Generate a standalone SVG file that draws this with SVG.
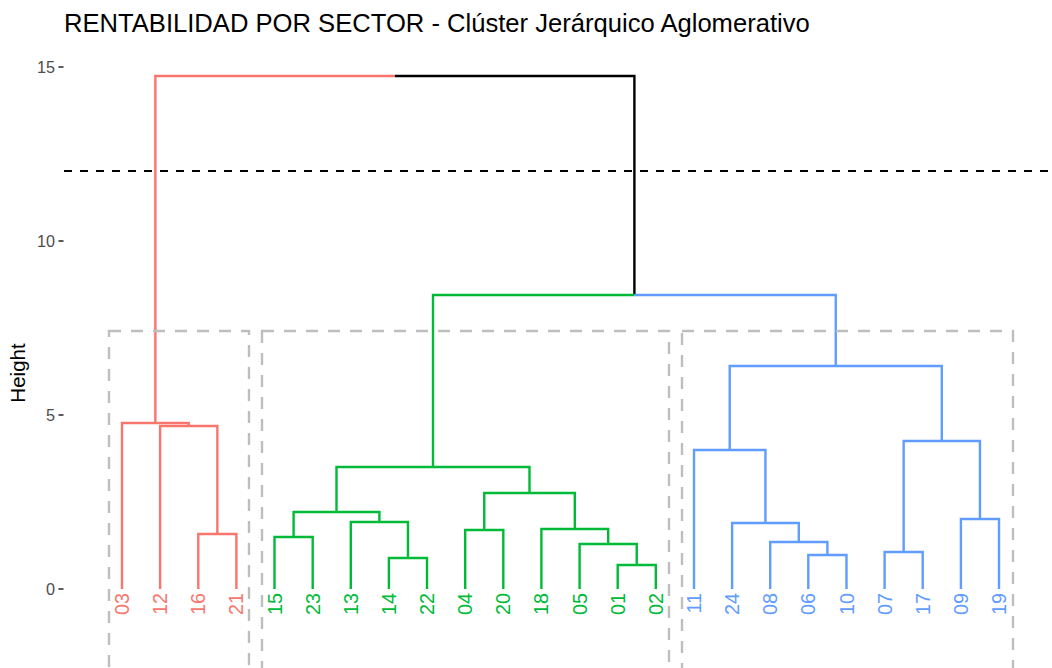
<svg xmlns="http://www.w3.org/2000/svg" width="1052" height="668" viewBox="0 0 1052 668">
  <style>
    .title { font-family: "Liberation Sans", Arial, sans-serif; font-size: 25.6px; fill: #000; }
    .tick-label { font-family: "Liberation Sans", Arial, sans-serif; font-size: 16.2px; fill: #4D4D4D; text-anchor: end; }
    .axis-title { font-family: "Liberation Sans", Arial, sans-serif; font-size: 20.5px; fill: #000; text-anchor: middle; }
    .tick { stroke: #333333; stroke-width: 1.6; }
    .leaf { font-family: "Liberation Sans", Arial, sans-serif; font-size: 19.8px; text-anchor: end; }
    .br { fill: none; stroke-width: 2.4; stroke-linejoin: miter; stroke-linecap: butt; }
    .c1 { stroke: #F8766D; }
    .c2 { stroke: #00BA38; }
    .c3 { stroke: #619CFF; }
    .c0 { stroke: #000000; }
    .t1 { fill: #F8766D; }
    .t2 { fill: #00BA38; }
    .t3 { fill: #619CFF; }
    .cut { stroke: #000; stroke-width: 1.8; stroke-dasharray: 8 8; fill: none; }
    .box { fill: none; stroke: #BEBEBE; stroke-width: 2.4; stroke-dasharray: 12 10; }
  </style>

  <rect width="1052" height="668" fill="#FFFFFF"/>

  <text class="title" x="64" y="32">RENTABILIDAD POR SECTOR - Clúster Jerárquico Aglomerativo</text>

  <!-- y axis -->
  <g id="y-axis">
    <text class="tick-label" x="55" y="72.8">15</text>
    <text class="tick-label" x="55" y="246.8">10</text>
    <text class="tick-label" x="55" y="420.8">5</text>
    <text class="tick-label" x="55" y="594.8">0</text>
    <line class="tick" x1="58.5" y1="67" x2="63.5" y2="67"/>
    <line class="tick" x1="58.5" y1="241" x2="63.5" y2="241"/>
    <line class="tick" x1="58.5" y1="415" x2="63.5" y2="415"/>
    <line class="tick" x1="58.5" y1="589" x2="63.5" y2="589"/>
    <text class="axis-title" transform="translate(25,373) rotate(-90)">Height</text>
  </g>

  <!-- dendrogram branches: each merge drawn as an inverted U -->
  <g id="connectors">
    <!-- root -->
    <path class="br c1" d="M155.35 423 V76 H394.9"/>
    <path class="br c0" d="M394.9 76 H634.4 V295"/>
    <!-- green / blue split -->
    <path class="br c2" d="M433 467 V295 H634.4"/>
    <path class="br c3" d="M634.4 295 H835.75 V366"/>

    <!-- cluster 1 (red) -->
    <path class="br c1" d="M122 589 V423 H188.7 V426"/>
    <path class="br c1" d="M160.1 589 V426 H217.35 V534"/>
    <path class="br c1" d="M198.3 589 V534 H236.4 V589"/>

    <!-- cluster 2 (green) -->
    <path class="br c2" d="M336.5 512 V467 H529.5 V493"/>
    <path class="br c2" d="M293.6 537 V512 H379.4 V522"/>
    <path class="br c2" d="M274.5 589 V537 H312.7 V589"/>
    <path class="br c2" d="M350.8 589 V522 H407.95 V558"/>
    <path class="br c2" d="M388.9 589 V558 H427 V589"/>
    <path class="br c2" d="M484.25 530 V493 H574.8 V529"/>
    <path class="br c2" d="M465.2 589 V530 H503.3 V589"/>
    <path class="br c2" d="M541.4 589 V529 H608.2 V544"/>
    <path class="br c2" d="M579.6 589 V544 H636.75 V565"/>
    <path class="br c2" d="M617.7 589 V565 H655.8 V589"/>

    <!-- cluster 3 (blue) -->
    <path class="br c3" d="M729.7 450 V366 H941.8 V441"/>
    <path class="br c3" d="M694 589 V450 H765.45 V523"/>
    <path class="br c3" d="M732.1 589 V523 H798.8 V542"/>
    <path class="br c3" d="M770.2 589 V542 H827.4 V555"/>
    <path class="br c3" d="M808.3 589 V555 H846.5 V589"/>
    <path class="br c3" d="M903.65 552 V441 H979.95 V519"/>
    <path class="br c3" d="M884.6 589 V552 H922.7 V589"/>
    <path class="br c3" d="M960.9 589 V519 H999 V589"/>
  </g>

  <!-- leaves -->
  <g id="leaf-03"><text class="leaf t1" transform="translate(129,593) rotate(-90)">03</text></g>
  <g id="leaf-12"><text class="leaf t1" transform="translate(167.1,593) rotate(-90)">12</text></g>
  <g id="leaf-16"><text class="leaf t1" transform="translate(205.3,593) rotate(-90)">16</text></g>
  <g id="leaf-21"><text class="leaf t1" transform="translate(243.4,593) rotate(-90)">21</text></g>
  <g id="leaf-15"><text class="leaf t2" transform="translate(281.5,593) rotate(-90)">15</text></g>
  <g id="leaf-23"><text class="leaf t2" transform="translate(319.7,593) rotate(-90)">23</text></g>
  <g id="leaf-13"><text class="leaf t2" transform="translate(357.8,593) rotate(-90)">13</text></g>
  <g id="leaf-14"><text class="leaf t2" transform="translate(395.9,593) rotate(-90)">14</text></g>
  <g id="leaf-22"><text class="leaf t2" transform="translate(434,593) rotate(-90)">22</text></g>
  <g id="leaf-04"><text class="leaf t2" transform="translate(472.2,593) rotate(-90)">04</text></g>
  <g id="leaf-20"><text class="leaf t2" transform="translate(510.3,593) rotate(-90)">20</text></g>
  <g id="leaf-18"><text class="leaf t2" transform="translate(548.4,593) rotate(-90)">18</text></g>
  <g id="leaf-05"><text class="leaf t2" transform="translate(586.6,593) rotate(-90)">05</text></g>
  <g id="leaf-01"><text class="leaf t2" transform="translate(624.7,593) rotate(-90)">01</text></g>
  <g id="leaf-02"><text class="leaf t2" transform="translate(662.8,593) rotate(-90)">02</text></g>
  <g id="leaf-11"><text class="leaf t3" transform="translate(701,593) rotate(-90)">11</text></g>
  <g id="leaf-24"><text class="leaf t3" transform="translate(739.1,593) rotate(-90)">24</text></g>
  <g id="leaf-08"><text class="leaf t3" transform="translate(777.2,593) rotate(-90)">08</text></g>
  <g id="leaf-06"><text class="leaf t3" transform="translate(815.3,593) rotate(-90)">06</text></g>
  <g id="leaf-10"><text class="leaf t3" transform="translate(853.5,593) rotate(-90)">10</text></g>
  <g id="leaf-07"><text class="leaf t3" transform="translate(891.6,593) rotate(-90)">07</text></g>
  <g id="leaf-17"><text class="leaf t3" transform="translate(929.7,593) rotate(-90)">17</text></g>
  <g id="leaf-09"><text class="leaf t3" transform="translate(967.9,593) rotate(-90)">09</text></g>
  <g id="leaf-19"><text class="leaf t3" transform="translate(1006,593) rotate(-90)">19</text></g>

  <!-- cut height -->
  <line class="cut" x1="64" y1="171" x2="1052" y2="171"/>

  <!-- cluster boxes -->
  <g id="cluster-boxes">
    <rect class="box" x="109" y="331" width="140" height="380"/>
    <rect class="box" x="262" y="331" width="407" height="380"/>
    <rect class="box" x="682" y="331" width="331" height="380"/>
  </g>
</svg>
